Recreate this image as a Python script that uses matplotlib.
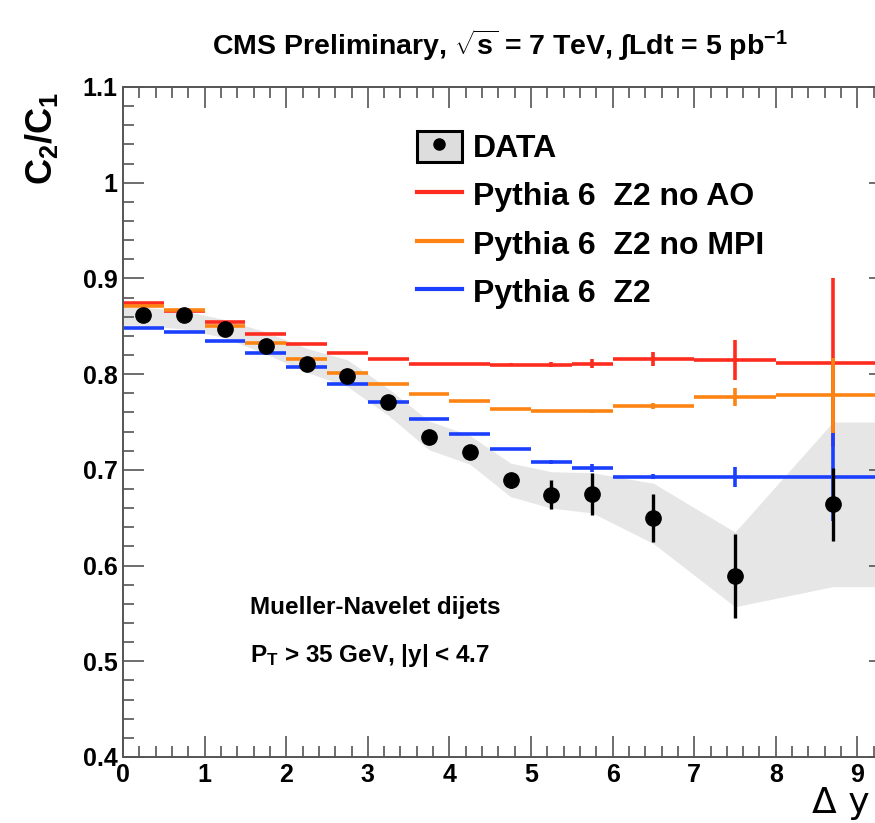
import numpy as np
import matplotlib
matplotlib.use("Agg")
import matplotlib.pyplot as plt
from matplotlib.patches import Patch
from matplotlib.lines import Line2D
from matplotlib.legend_handler import HandlerTuple
from matplotlib.ticker import MultipleLocator

plt.rcParams['font.family'] = ['Liberation Sans', 'DejaVu Sans']
plt.rcParams['mathtext.fontset'] = 'custom'
plt.rcParams['mathtext.rm'] = 'Liberation Sans:bold'
plt.rcParams['mathtext.it'] = 'Liberation Sans:bold'
plt.rcParams['mathtext.bf'] = 'Liberation Sans:bold'

# bin centres and half widths in delta y
dy = [0.25, 0.75, 1.25, 1.75, 2.25, 2.75, 3.25, 3.75, 4.25, 4.75, 5.25, 5.75, 6.5, 7.5, 8.7]
dy_half = [0.25] * 12 + [0.5, 0.5, 0.7]

# data C2/C1 with stat errors and systematic band
data_val = [0.862, 0.862, 0.847, 0.829, 0.811, 0.798, 0.771, 0.734, 0.719, 0.689, 0.674, 0.675, 0.650, 0.589, 0.664]
data_stat = [0.003, 0.003, 0.003, 0.003, 0.004, 0.004, 0.005, 0.005, 0.006, 0.008, 0.015, 0.022, 0.025, 0.044, 0.038]
band_x = [0.0] + dy + [9.4]
band_hi = [0.870, 0.870, 0.866, 0.857, 0.844, 0.827, 0.815, 0.785, 0.751, 0.736, 0.707, 0.698, 0.697, 0.686, 0.635, 0.750, 0.750]
band_lo = [0.851, 0.851, 0.847, 0.838, 0.821, 0.802, 0.787, 0.757, 0.721, 0.706, 0.672, 0.660, 0.655, 0.623, 0.557, 0.578, 0.578]

# Pythia 6 predictions
no_ao = [0.874, 0.866, 0.854, 0.842, 0.832, 0.822, 0.816, 0.811, 0.811, 0.810, 0.810, 0.811, 0.816, 0.815, 0.812]
no_ao_err = [0.001] * 9 + [0.002, 0.003, 0.005, 0.007, 0.021, 0.088]
no_mpi = [0.871, 0.867, 0.850, 0.833, 0.816, 0.801, 0.790, 0.779, 0.772, 0.764, 0.761, 0.761, 0.767, 0.776, 0.778]
no_mpi_err = [0.001] * 11 + [0.002, 0.003, 0.009, 0.039]
z2 = [0.848, 0.844, 0.835, 0.822, 0.807, 0.790, 0.771, 0.753, 0.737, 0.722, 0.708, 0.702, 0.693, 0.693, 0.693]
z2_err = [0.001] * 10 + [0.002, 0.004, 0.003, 0.0105, 0.046]

red = '#fe2b1f'
orange = '#fd8312'
blue = '#1b3ffe'

fig = plt.figure(figsize=(8.75, 8.23), dpi=100)
ax = fig.add_axes([0.1406, 0.0802, 0.8766, 0.8141])

ax.fill_between(band_x, band_lo, band_hi, color='#e6e6e6', lw=0, zorder=1)

for vals, errs, col in [(no_ao, no_ao_err, red), (no_mpi, no_mpi_err, orange), (z2, z2_err, blue)]:
    ax.errorbar(dy, vals, xerr=dy_half, yerr=errs, fmt='none', ecolor=col, elinewidth=2.6, capsize=0, zorder=2)

ax.errorbar(dy, data_val, yerr=data_stat, fmt='o', color='black', ms=11, elinewidth=2.4, capsize=0, zorder=3)

ax.set_xlim(0, 9.4)
ax.set_ylim(0.4, 1.1)
ax.xaxis.set_major_locator(MultipleLocator(1))
ax.xaxis.set_minor_locator(MultipleLocator(0.2))
ax.yaxis.set_major_locator(MultipleLocator(0.1))
ax.yaxis.set_minor_locator(MultipleLocator(0.02))
ax.tick_params(which='both', direction='in', top=True, right=True, color='#555555', width=1.2)
ax.tick_params(which='major', length=15, labelsize=18, pad=4)
ax.tick_params(which='minor', length=8)
ax.set_yticks([0.4, 0.5, 0.6, 0.7, 0.8, 0.9, 1.0, 1.1])
ax.set_yticklabels(['0.4', '0.5', '0.6', '0.7', '0.8', '0.9', '1', '1.1'])
for lab in ax.get_xticklabels() + ax.get_yticklabels():
    lab.set_fontweight('bold')
for sp in ax.spines.values():
    sp.set_color('#555555')
    sp.set_linewidth(1.4)

# legend
h_data = (Patch(facecolor='#dddddd', edgecolor='black', lw=2.2),
          Line2D([], [], marker='o', color='black', ls='none', ms=8))
h_red = Line2D([], [], color=red, lw=3)
h_orange = Line2D([], [], color=orange, lw=3)
h_blue = Line2D([], [], color=blue, lw=3)
leg = ax.legend([h_data, h_red, h_orange, h_blue],
                ['DATA', 'Pythia 6  Z2 no AO', 'Pythia 6  Z2 no MPI', 'Pythia 6  Z2'],
                handler_map={tuple: HandlerTuple(ndivide=1, pad=0)},
                loc='upper left', bbox_to_anchor=(417 / 875, 1 - 131 / 823), bbox_transform=fig.transFigure,
                frameon=False, handlelength=1.4, handleheight=1.1, handletextpad=0.35, labelspacing=0.47,
                borderpad=0, borderaxespad=0,
                prop={'family': ['Liberation Sans', 'DejaVu Sans'], 'weight': 'bold', 'size': 23})

ax.text(0.1656, 0.2224, 'Mueller-Navelet dijets', transform=ax.transAxes, fontsize=17.5, fontweight='bold',
        ha='left', va='center')
ax.text(0.1656, 0.152, r'P$_\mathregular{T}$ > 35 GeV, |y| < 4.7', transform=ax.transAxes, fontsize=17.5,
        fontweight='bold', ha='left', va='center')

fig.text(500 / 875, 1 - 45 / 823, r'CMS Preliminary, $\sqrt{s}$ = 7 TeV, $\int$Ldt = 5 pb$^{-1}$',
         fontsize=20.5, fontweight='bold', ha='center', va='center')
fig.text(42 / 875, 1 - 138 / 823, r'C$_2$/C$_1$', rotation=90, fontsize=26, fontweight='bold',
         ha='center', va='center')
fig.text(812 / 875, 1 - 803 / 823, '\u0394 y', fontsize=26, ha='left', va='center',
         family=['DejaVu Sans'])

fig.savefig('out.png', dpi=100)
